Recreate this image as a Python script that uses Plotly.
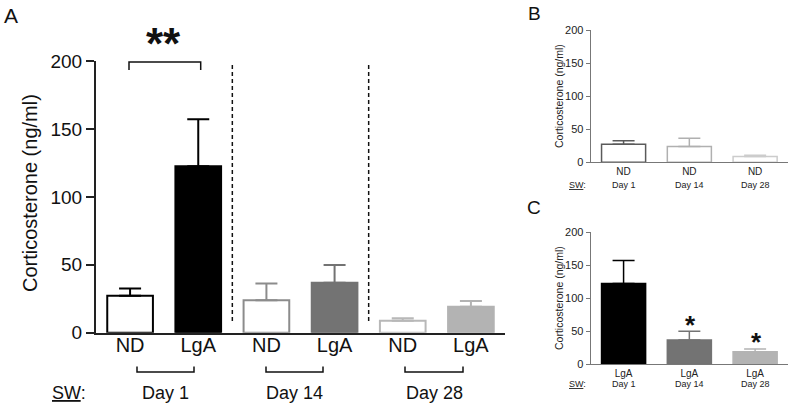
import plotly.graph_objects as go

# ---------------- data ----------------
days = ["Day 1", "Day 14", "Day 28"]
nd_mean = [27.2, 23.8, 8.8]
nd_sem = [5.4, 12.5, 1.9]
lga_mean = [122.5, 36.8, 19.1]
lga_sem = [34.6, 13.1, 4.2]
group_labels = ["ND", "LgA"]
yticks = [0, 50, 100, 150, 200]

# ---------------- styles ----------------
W, H = 792, 406
FONT = "Liberation Sans, Arial, sans-serif"
nd_outline_A = ["#000000", "#8c8c8c", "#b8b8b8"]
lga_fill = ["#000000", "#737373", "#b3b3b3"]
nd_outline_B = ["#5a5a5a", "#b0b0b0", "#cccccc"]


def px_x(p):
    return p / W


def px_y(p):
    return (H - p) / H


fig = go.Figure()

# ---- Panel A: interleaved ND / LgA per day ----
a_x, a_lab = [], []
for d in range(len(days)):
    for g in range(2):
        i = 2 * d + g
        a_x.append(i)
        a_lab.append(group_labels[g])
        if g == 0:
            m, s = nd_mean[d], nd_sem[d]
            fill, line = "#ffffff", nd_outline_A[d]
        else:
            m, s = lga_mean[d], lga_sem[d]
            fill, line = lga_fill[d], lga_fill[d]
        fig.add_trace(go.Bar(
            x=[i], y=[m], width=0.67, xaxis="x", yaxis="y",
            marker=dict(color=fill, line=dict(color=line, width=2)),
            error_y=dict(type="data", array=[s], arrayminus=[0], symmetric=False,
                         color=line, thickness=2, width=11),
            showlegend=False, hoverinfo="skip"))

# ---- Panel B: ND only ----
for d in range(len(days)):
    fig.add_trace(go.Bar(
        x=[d], y=[nd_mean[d]], width=0.67, xaxis="x2", yaxis="y2",
        marker=dict(color="#ffffff", line=dict(color=nd_outline_B[d], width=1.5)),
        error_y=dict(type="data", array=[nd_sem[d]], arrayminus=[0], symmetric=False,
                     color=nd_outline_B[d], thickness=1.5, width=11),
        showlegend=False, hoverinfo="skip"))

# ---- Panel C: LgA only ----
for d in range(len(days)):
    fig.add_trace(go.Bar(
        x=[d], y=[lga_mean[d]], width=0.67, xaxis="x3", yaxis="y3",
        marker=dict(color=lga_fill[d], line=dict(color=lga_fill[d], width=1.5)),
        error_y=dict(type="data", array=[lga_sem[d]], arrayminus=[0], symmetric=False,
                     color=lga_fill[d], thickness=1.5, width=11),
        showlegend=False, hoverinfo="skip"))

axis_common = dict(showgrid=False, zeroline=False, showline=True, fixedrange=True)

big_y = dict(axis_common, range=[0, 200], tickvals=yticks, ticks="outside", ticklen=8,
             tickwidth=2, linewidth=2, linecolor="#222", tickcolor="#222",
             tickfont=dict(family=FONT, size=19, color="#111"))
small_y = dict(axis_common, range=[0, 200], tickvals=yticks, ticks="outside", ticklen=4,
               tickwidth=1, linewidth=1.2, linecolor="#777", tickcolor="#777",
               tickfont=dict(family=FONT, size=11, color="#222"))

fig.update_layout(
    width=W, height=H, margin=dict(l=0, r=0, t=0, b=0, autoexpand=False),
    paper_bgcolor="white", plot_bgcolor="white", barmode="overlay",
    xaxis=dict(axis_common, domain=[px_x(96), px_x(505)], range=[-0.5, 5.5],
               tickvals=a_x, ticktext=a_lab, ticks="", linewidth=2, linecolor="#222",
               ticklabelstandoff=-7,
               tickfont=dict(family=FONT, size=20, color="#111"), anchor="y"),
    yaxis=dict(big_y, domain=[px_y(332.7), px_y(61)], anchor="x"),
    xaxis2=dict(axis_common, domain=[px_x(590.7), px_x(788)], range=[-0.5, 2.5],
                tickvals=[0, 1, 2], ticktext=[group_labels[0]] * 3, ticks="",
                linewidth=1.2, linecolor="#777",
                tickfont=dict(family=FONT, size=10, color="#222"), anchor="y2"),
    yaxis2=dict(small_y, domain=[px_y(162.3), px_y(30)], anchor="x2"),
    xaxis3=dict(axis_common, domain=[px_x(590.7), px_x(788)], range=[-0.5, 2.5],
                tickvals=[0, 1, 2], ticktext=[group_labels[1]] * 3, ticks="",
                linewidth=1.2, linecolor="#777",
                tickfont=dict(family=FONT, size=10, color="#222"), anchor="y3"),
    yaxis3=dict(small_y, domain=[px_y(364.3), px_y(232.3)], anchor="x3"),
)

shapes = []
# dashed separators in A
for xs in [1.5, 3.5]:
    shapes.append(dict(type="line", xref="x", yref="y", x0=xs, x1=xs, y0=8.6, y1=197.5,
                       line=dict(color="#111", width=1.5, dash="4px,3px")))
# significance bracket in A
shapes.append(dict(type="path", xref="paper", yref="paper",
                   path=f"M {px_x(129)},{px_y(70)} L {px_x(129)},{px_y(62)} L {px_x(200.7)},{px_y(62)} L {px_x(200.7)},{px_y(70)}",
                   line=dict(color="#111", width=1.5)))
# day brackets under A
for x0, x1 in [(137, 194), (266, 323), (405, 463)]:
    shapes.append(dict(type="path", xref="paper", yref="paper",
                       path=f"M {px_x(x0)},{px_y(366.5)} L {px_x(x0)},{px_y(372)} L {px_x(x1)},{px_y(372)} L {px_x(x1)},{px_y(366.5)}",
                       line=dict(color="#111", width=1.5)))
fig.update_layout(shapes=shapes)

ann = []


def txt(x, y, s, size, color="#111", **kw):
    d = dict(x=x, y=y, xref="paper", yref="paper", text=s, showarrow=False,
             font=dict(family=FONT, size=size, color=color),
             xanchor="center", yanchor="middle")
    d.update(kw)
    ann.append(d)


# panel letters
txt(px_x(11), px_y(15), "A", 21)
txt(px_x(534), px_y(13), "B", 19)
txt(px_x(534), px_y(207), "C", 19)

# y titles
txt(px_x(30), px_y(193), "Corticosterone (ng/ml)", 20, textangle=-90)
txt(px_x(559), px_y(96), "Corticosterone (ng/ml)", 10.5, color="#222", textangle=-90)
txt(px_x(559), px_y(298), "Corticosterone (ng/ml)", 10.5, color="#222", textangle=-90)

# significance stars
txt(px_x(163), px_y(44), "<b>**</b>", 44)
txt(px_x(690), px_y(325), "<b>*</b>", 26)
txt(px_x(756), px_y(342), "<b>*</b>", 26)

# SW / day labels under A
txt(px_x(69), px_y(393), "<u>SW</u>:", 18)
for cx, dl in zip([165, 294, 435], days):
    txt(px_x(cx), px_y(393), dl, 18)

# SW / day labels under B and C
for yy in [185, 384]:
    txt(px_x(577), px_y(yy), "<u>SW</u>:", 9, color="#222")
    for d, dl in enumerate(days):
        ann.append(dict(x=d, y=px_y(yy), xref="x2", yref="paper", text=dl, showarrow=False,
                        font=dict(family=FONT, size=9, color="#222"),
                        xanchor="center", yanchor="middle"))

fig.update_layout(annotations=ann)

fig.write_html("out.html", config={"displayModeBar": False},
               post_script="document.body.style.margin='0';document.body.style.overflow='hidden';")
